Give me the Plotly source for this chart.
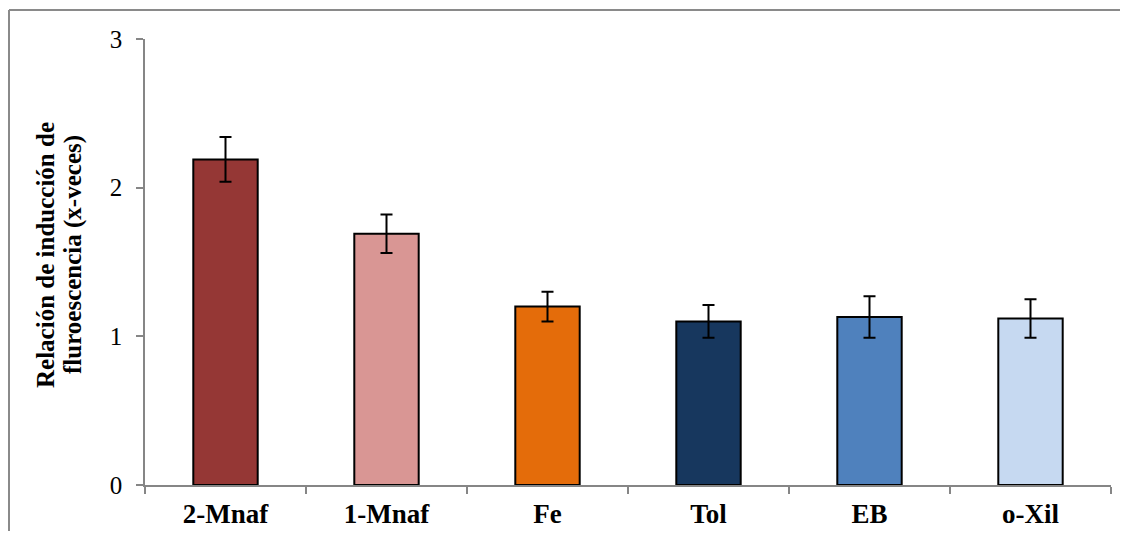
import plotly.graph_objects as go

categories = ["2-Mnaf", "1-Mnaf", "Fe", "Tol", "EB", "o-Xil"]
values = [2.19, 1.69, 1.20, 1.10, 1.13, 1.12]
errors = [0.15, 0.13, 0.10, 0.11, 0.14, 0.13]
colors = ["#953735", "#D99694", "#E46C0A", "#17375E", "#4F81BD", "#C6D9F1"]
y_ticks = [0, 1, 2, 3]
title_lines = ["Relación de inducción de", "fluroescencia (x-veces)"]

fig = go.Figure()
fig.add_trace(go.Bar(
    x=categories, y=values,
    marker=dict(color=colors, line=dict(color="black", width=2)),
    width=0.4,
    error_y=dict(type="data", array=errors, visible=True, color="black", thickness=2, width=6),
))

OFF = 8  # page body margin
W, H = 1128 - 2 * OFF, 539 - 2 * OFF
# desired page-pixel plot area: left 145, right 1111, top 39, bottom 485
L = 145 - OFF
T = 39 - OFF
B = H - (485 - OFF)
R = W - (1111 - OFF)
pw, ph = W - L - R, H - T - B

def px(x):
    return (x - OFF - L) / pw

def py(y):
    return (H - B - (y - OFF)) / ph

border = dict(color="#8a8a8a", width=2)
fig.add_shape(type="line", xref="paper", yref="paper",
              x0=px(9), x1=px(1200), y0=py(10), y1=py(10), line=border)
fig.add_shape(type="line", xref="paper", yref="paper",
              x0=px(9), x1=px(9), y0=py(10), y1=py(600), line=border)

for xpos, txt in zip([46, 73], title_lines):
    fig.add_annotation(xref="paper", yref="paper", x=px(xpos), y=py(255),
                       text="<b>" + txt + "</b>", textangle=-90, showarrow=False,
                       xanchor="center", yanchor="middle",
                       font=dict(family="Liberation Serif", size=25, color="black"))

fig.update_layout(
    width=W, height=H,
    margin=dict(l=L, r=R, t=T, b=B, autoexpand=False),
    plot_bgcolor="white", paper_bgcolor="white",
    showlegend=False,
    font=dict(family="Liberation Serif", color="black"),
    xaxis=dict(
        showline=True, linecolor="#868686", linewidth=1.5, automargin=False,
        ticks="outside", tickson="boundaries", ticklen=7, tickcolor="#868686", tickwidth=1.5,
        tickfont=dict(family="Liberation Serif", size=27, color="black", weight="bold"),
        ticklabelstandoff=4,
        showgrid=False,
    ),
    yaxis=dict(
        range=[0, 3], tickvals=y_ticks, automargin=False,
        showline=True, linecolor="#868686", linewidth=1.5,
        ticks="outside", ticklen=7, tickcolor="#868686", tickwidth=1.5,
        tickfont=dict(family="Liberation Serif", size=25, color="black"),
        ticklabelstandoff=9,
        showgrid=False, zeroline=False,
    ),
    bargap=0.6,
)

fig.write_html("out.html")
